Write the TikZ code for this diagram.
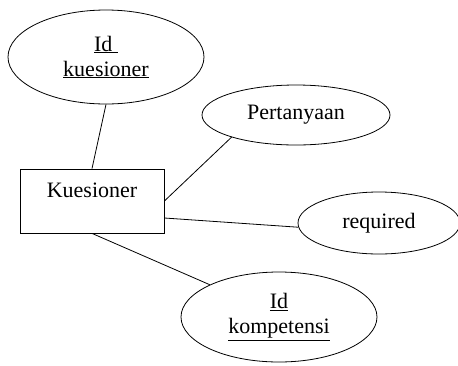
\documentclass[tikz,border=0pt]{standalone}
\usepackage{fontspec}
\setmainfont{Liberation Serif}
\usetikzlibrary{shapes.geometric}

\tikzset{
  attr/.style={draw, ellipse, inner sep=0pt, align=center, line width=0.8pt},
  entity/.style={draw, rectangle, line width=0.8pt, minimum width=144pt, minimum height=64pt, text height=16pt, text depth=24pt}
}

\begin{document}
\begin{tikzpicture}[x=1pt, y=-1pt, font=\fontsize{22}{25}\selectfont]
  \useasboundingbox (0,0) rectangle (458,365);
  \node[entity] (kues) at (92,201) {Kuesioner};
  \node[attr, minimum width=196pt, minimum height=94pt] (idkues) at (106,57) {\underline{Id\ }\\\underline{kuesioner}};
  \node[attr, minimum width=188pt, minimum height=60pt] (pert) at (296,115) {Pertanyaan};
  \node[attr, minimum width=162pt, minimum height=62pt] (req) at (379,223) {required};
  \node[attr, minimum width=196pt, minimum height=90pt] (idkomp) at (279,317) {\underline{Id}\\\underline{kompetensi}};
  \draw[line width=0.8pt] (idkues.south) -- (kues.north);
  \draw[line width=0.8pt] (kues.east) -- (pert.199);
  \draw[line width=0.8pt] ([yshift=-17pt]kues.east) -- (req.183);
  \draw[line width=0.8pt] (kues.south) -- (idkomp.155);
\end{tikzpicture}
\end{document}
